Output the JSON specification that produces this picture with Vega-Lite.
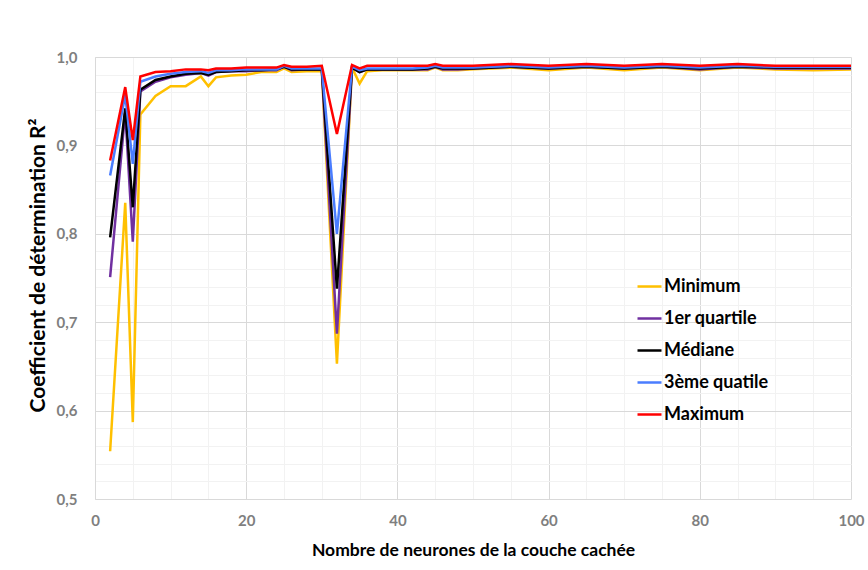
{
  "$schema": "https://vega.github.io/schema/vega-lite/v6.json",
  "autosize": "none",
  "width": 756,
  "height": 442,
  "padding": {"left": 95, "top": 57, "right": 17, "bottom": 71},
  "background": "white",
  "config": {
    "view": {"stroke": null},
    "font": "Lato"
  },
  "data": {
    "values": [
      {"n": 2, "Minimum": 0.554, "1er quartile": 0.751, "Médiane": 0.796, "3ème quatile": 0.866, "Maximum": 0.883},
      {"n": 4, "Minimum": 0.835, "1er quartile": 0.938, "Médiane": 0.942, "3ème quatile": 0.957, "Maximum": 0.966},
      {"n": 5, "Minimum": 0.587, "1er quartile": 0.791, "Médiane": 0.830, "3ème quatile": 0.879, "Maximum": 0.906},
      {"n": 6, "Minimum": 0.935, "1er quartile": 0.961, "Médiane": 0.963, "3ème quatile": 0.972, "Maximum": 0.978},
      {"n": 8, "Minimum": 0.956, "1er quartile": 0.972, "Médiane": 0.974, "3ème quatile": 0.978, "Maximum": 0.983},
      {"n": 10, "Minimum": 0.967, "1er quartile": 0.977, "Médiane": 0.978, "3ème quatile": 0.981, "Maximum": 0.984},
      {"n": 12, "Minimum": 0.967, "1er quartile": 0.980, "Médiane": 0.981, "3ème quatile": 0.983, "Maximum": 0.986},
      {"n": 14, "Minimum": 0.978, "1er quartile": 0.982, "Médiane": 0.982, "3ème quatile": 0.984, "Maximum": 0.986},
      {"n": 15, "Minimum": 0.967, "1er quartile": 0.979, "Médiane": 0.980, "3ème quatile": 0.982, "Maximum": 0.985},
      {"n": 16, "Minimum": 0.977, "1er quartile": 0.983, "Médiane": 0.983, "3ème quatile": 0.985, "Maximum": 0.987},
      {"n": 18, "Minimum": 0.979, "1er quartile": 0.984, "Médiane": 0.984, "3ème quatile": 0.985, "Maximum": 0.987},
      {"n": 20, "Minimum": 0.980, "1er quartile": 0.984, "Médiane": 0.985, "3ème quatile": 0.986, "Maximum": 0.988},
      {"n": 22, "Minimum": 0.983, "1er quartile": 0.985, "Médiane": 0.985, "3ème quatile": 0.986, "Maximum": 0.988},
      {"n": 24, "Minimum": 0.983, "1er quartile": 0.985, "Médiane": 0.986, "3ème quatile": 0.986, "Maximum": 0.988},
      {"n": 25, "Minimum": 0.987, "1er quartile": 0.989, "Médiane": 0.989, "3ème quatile": 0.990, "Maximum": 0.991},
      {"n": 26, "Minimum": 0.983, "1er quartile": 0.985, "Médiane": 0.986, "3ème quatile": 0.987, "Maximum": 0.989},
      {"n": 28, "Minimum": 0.984, "1er quartile": 0.986, "Médiane": 0.986, "3ème quatile": 0.987, "Maximum": 0.989},
      {"n": 30, "Minimum": 0.984, "1er quartile": 0.986, "Médiane": 0.986, "3ème quatile": 0.987, "Maximum": 0.990},
      {"n": 32, "Minimum": 0.653, "1er quartile": 0.687, "Médiane": 0.738, "3ème quatile": 0.800, "Maximum": 0.913},
      {"n": 34, "Minimum": 0.988, "1er quartile": 0.988, "Médiane": 0.988, "3ème quatile": 0.989, "Maximum": 0.991},
      {"n": 35, "Minimum": 0.970, "1er quartile": 0.983, "Médiane": 0.983, "3ème quatile": 0.985, "Maximum": 0.987},
      {"n": 36, "Minimum": 0.984, "1er quartile": 0.986, "Médiane": 0.986, "3ème quatile": 0.987, "Maximum": 0.990},
      {"n": 38, "Minimum": 0.985, "1er quartile": 0.986, "Médiane": 0.986, "3ème quatile": 0.987, "Maximum": 0.990},
      {"n": 40, "Minimum": 0.985, "1er quartile": 0.986, "Médiane": 0.986, "3ème quatile": 0.987, "Maximum": 0.990},
      {"n": 42, "Minimum": 0.985, "1er quartile": 0.986, "Médiane": 0.986, "3ème quatile": 0.987, "Maximum": 0.990},
      {"n": 44, "Minimum": 0.985, "1er quartile": 0.986, "Médiane": 0.987, "3ème quatile": 0.988, "Maximum": 0.990},
      {"n": 45, "Minimum": 0.988, "1er quartile": 0.989, "Médiane": 0.989, "3ème quatile": 0.990, "Maximum": 0.992},
      {"n": 46, "Minimum": 0.985, "1er quartile": 0.986, "Médiane": 0.987, "3ème quatile": 0.988, "Maximum": 0.990},
      {"n": 48, "Minimum": 0.985, "1er quartile": 0.986, "Médiane": 0.987, "3ème quatile": 0.988, "Maximum": 0.990},
      {"n": 50, "Minimum": 0.986, "1er quartile": 0.987, "Médiane": 0.987, "3ème quatile": 0.988, "Maximum": 0.990},
      {"n": 55, "Minimum": 0.988, "1er quartile": 0.989, "Médiane": 0.989, "3ème quatile": 0.990, "Maximum": 0.992},
      {"n": 60, "Minimum": 0.985, "1er quartile": 0.987, "Médiane": 0.987, "3ème quatile": 0.988, "Maximum": 0.990},
      {"n": 65, "Minimum": 0.988, "1er quartile": 0.989, "Médiane": 0.989, "3ème quatile": 0.990, "Maximum": 0.992},
      {"n": 70, "Minimum": 0.985, "1er quartile": 0.987, "Médiane": 0.987, "3ème quatile": 0.988, "Maximum": 0.990},
      {"n": 75, "Minimum": 0.988, "1er quartile": 0.989, "Médiane": 0.989, "3ème quatile": 0.990, "Maximum": 0.992},
      {"n": 80, "Minimum": 0.985, "1er quartile": 0.986, "Médiane": 0.987, "3ème quatile": 0.988, "Maximum": 0.990},
      {"n": 85, "Minimum": 0.988, "1er quartile": 0.989, "Médiane": 0.989, "3ème quatile": 0.990, "Maximum": 0.992},
      {"n": 90, "Minimum": 0.986, "1er quartile": 0.987, "Médiane": 0.988, "3ème quatile": 0.989, "Maximum": 0.990},
      {"n": 95, "Minimum": 0.985, "1er quartile": 0.987, "Médiane": 0.988, "3ème quatile": 0.989, "Maximum": 0.990},
      {"n": 100, "Minimum": 0.986, "1er quartile": 0.987, "Médiane": 0.988, "3ème quatile": 0.989, "Maximum": 0.990}
    ]
  },
  "transform": [
    {"fold": ["Minimum", "1er quartile", "Médiane", "3ème quatile", "Maximum"], "as": ["serie", "r2"]}
  ],
  "mark": {"type": "line", "strokeWidth": 2.5, "clip": true},
  "encoding": {
    "x": {
      "field": "n",
      "type": "quantitative",
      "scale": {"domain": [0, 100], "nice": false},
      "axis": {
        "title": "Nombre de neurones de la couche cachée",
        "titleFont": "Lato",
        "titleFontSize": 17.5,
        "titleFontWeight": "bold",
        "titleColor": "#000000",
        "titlePadding": 13,
        "values": [0, 5, 10, 15, 20, 25, 30, 35, 40, 45, 50, 55, 60, 65, 70, 75, 80, 85, 90, 95, 100],
        "labelExpr": "datum.value % 20 === 0 ? datum.label : ''",
        "labelFont": "Lato",
        "labelFontSize": 15,
        "labelFontWeight": "bold",
        "labelColor": "#7f7f7f",
        "labelPadding": 14,
        "labelFlush": false,
        "labelOverlap": false,
        "ticks": false,
        "domain": false,
        "grid": true,
        "gridColor": {"condition": {"test": "datum.value % 20 === 0", "value": "#d9d9d9"}, "value": "#f2f2f2"},
        "gridWidth": 1
      }
    },
    "y": {
      "field": "r2",
      "type": "quantitative",
      "scale": {"domain": [0.5, 1.0], "nice": false, "zero": false},
      "axis": {
        "title": "Coefficient de détermination R²",
        "titleFont": "Lato",
        "titleFontSize": 21,
        "titleFontWeight": "bold",
        "titleColor": "#000000",
        "titlePadding": 8,
        "titleY": 208,
        "values": [0.5, 0.52, 0.54, 0.56, 0.58, 0.6, 0.62, 0.64, 0.66, 0.68, 0.7, 0.72, 0.74, 0.76, 0.78, 0.8, 0.82, 0.84, 0.86, 0.88, 0.9, 0.92, 0.94, 0.96, 0.98, 1.0],
        "labelExpr": "abs(datum.value * 10 - round(datum.value * 10)) < 0.001 ? replace(format(datum.value, '.1f'), '.', ',') : ''",
        "labelFont": "Lato",
        "labelFontSize": 15,
        "labelFontWeight": "bold",
        "labelColor": "#7f7f7f",
        "labelPadding": 18,
        "labelOverlap": false,
        "ticks": false,
        "domain": true,
        "domainColor": "#d9d9d9",
        "grid": true,
        "gridColor": {"condition": {"test": "abs(datum.value * 10 - round(datum.value * 10)) < 0.001", "value": "#d9d9d9"}, "value": "#f2f2f2"},
        "gridWidth": 1
      }
    },
    "color": {
      "field": "serie",
      "type": "nominal",
      "sort": ["Minimum", "1er quartile", "Médiane", "3ème quatile", "Maximum"],
      "scale": {
        "domain": ["Minimum", "1er quartile", "Médiane", "3ème quatile", "Maximum"],
        "range": ["#FFC000", "#7030A0", "#000000", "#4A7DFF", "#FF0000"]
      },
      "legend": {
        "title": null,
        "orient": "none",
        "legendX": 541,
        "legendY": 216,
        "symbolType": "stroke",
        "symbolSize": 576,
        "symbolStrokeWidth": 2.5,
        "labelFont": "Lato",
        "labelFontSize": 18,
        "labelFontWeight": "bold",
        "labelColor": "#000000",
        "labelOffset": 1,
        "rowPadding": 9
      }
    }
  }
}
